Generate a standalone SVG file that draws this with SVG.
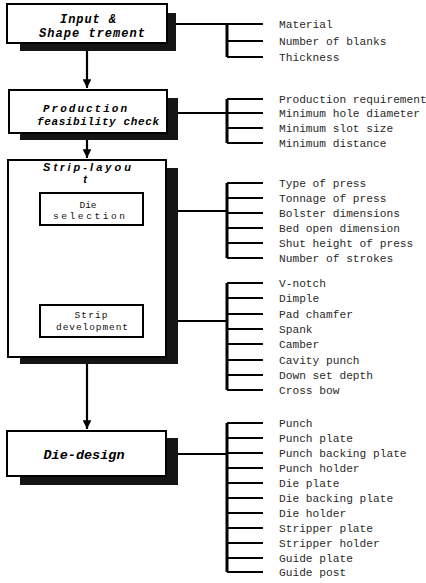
<svg xmlns="http://www.w3.org/2000/svg" width="426" height="583" viewBox="0 0 426 583">
<style>
.box{fill:#fff;stroke:#000;stroke-width:2}
.sh{fill:#151515}
.ln{stroke:#000;stroke-width:2.2;fill:none}
.br{stroke:#000;stroke-width:3;fill:none}
.t{font-family:"Liberation Mono",monospace;font-size:11.2px;fill:#2a2a2a}
.h{font-family:"Liberation Mono",monospace;font-weight:bold;font-style:italic;fill:#000;text-anchor:middle}
.s{font-family:"Liberation Mono",monospace;font-size:9.5px;fill:#111;text-anchor:middle}
.sl{font-family:"Liberation Sans",Arial,sans-serif;font-weight:bold;font-style:italic;font-size:11px;text-anchor:middle;fill:#000}
</style>
<defs>
<marker id="ah" viewBox="0 0 10 10" refX="10" refY="5" markerWidth="4" markerHeight="4" orient="auto" markerUnits="strokeWidth">
<path d="M0,0 L10,5 L0,10 Z" fill="#000"/>
</marker>
</defs>
<rect width="426" height="583" fill="#fff"/>

<g id="connectors">
<path class="ln" d="M87,51 V88" marker-end="url(#ah)"/>
<path class="ln" d="M87,140 V158" marker-end="url(#ah)"/>
<path class="ln" d="M87,364 V429" marker-end="url(#ah)"/>
<path class="ln" d="M176,24 H263"/>
<path class="br" d="M227,24 V57"/>
<path class="ln" d="M227,41 H263 M227,57 H263"/>
<path class="ln" d="M178,113 H227"/>
<path class="br" d="M227,99 V143"/>
<path class="ln" d="M227,99 H263 M227,113 H263 M227,128 H263 M227,143 H263"/>
<path class="ln" d="M143,211 H227"/>
<path class="br" d="M227,183 V258"/>
<path class="ln" d="M227,183 H263 M227,198 H263 M227,213 H263 M227,228 H263 M227,243 H263 M227,258 H263"/>
<path class="ln" d="M143,321 H227"/>
<path class="br" d="M227,283 V390"/>
<path class="ln" d="M227,283 H263 M227,298 H263 M227,314 H263 M227,329 H263 M227,344 H263 M227,360 H263 M227,375 H263 M227,390 H263"/>
<path class="ln" d="M178,454 H227"/>
<path class="br" d="M227,423 V572"/>
<path class="ln" d="M227,423 H263 M227,438 H263 M227,453 H263 M227,468 H263 M227,483 H263 M227,498 H263 M227,513 H263 M227,528 H263 M227,543 H263 M227,558 H263 M227,572 H263"/>
</g>

<g id="input">
<rect class="sh" x="20" y="13" width="156" height="38"/>
<rect class="box" x="7" y="4" width="160" height="39"/>
<text class="h" x="88" y="23" font-size="12" textLength="56" lengthAdjust="spacing">Input &amp;</text>
<text class="h" x="92" y="37" font-size="12" textLength="106" lengthAdjust="spacing">Shape trement</text>
</g>

<g id="feasibility">
<rect class="sh" x="20" y="98" width="158" height="42"/>
<rect class="box" x="9" y="90" width="158" height="43"/>
<text class="h" x="85" y="112" font-size="11" textLength="84" lengthAdjust="spacing">Production</text>
<text class="h" x="98" y="124.5" font-size="11" textLength="122" lengthAdjust="spacing">feasibility check</text>
</g>

<g id="strip-layout">
<rect class="sh" x="20" y="168" width="158" height="196"/>
<rect class="box" x="8" y="160" width="158" height="197"/>
<text class="sl" x="87" y="170.5" textLength="88" lengthAdjust="spacing">Strip-layou</text>
<text class="sl" x="85" y="183">t</text>
</g>

<g id="die-selection">
<rect class="box" x="40" y="193" width="103" height="32" stroke-width="1.6"/>
<text class="s" x="88" y="207.5">Die</text>
<text class="s" x="89" y="219" textLength="72" lengthAdjust="spacing">selection</text>
</g>

<g id="strip-development">
<rect class="box" x="40" y="305" width="103" height="32" stroke-width="1.6"/>
<text class="s" x="91" y="318" textLength="33" lengthAdjust="spacing">Strip</text>
<text class="s" x="92" y="329.5" textLength="72" lengthAdjust="spacing">development</text>
</g>

<g id="die-design">
<rect class="sh" x="20" y="438" width="158" height="47"/>
<rect class="box" x="7" y="431" width="159" height="45"/>
<text class="h" x="84" y="459" font-size="13.5">Die-design</text>
</g>

<g id="labels">
<text class="t" x="279" y="28">Material</text>
<text class="t" x="279" y="45">Number of blanks</text>
<text class="t" x="279" y="61">Thickness</text>
<text class="t" x="279" y="103">Production requirement</text>
<text class="t" x="279" y="117">Minimum hole diameter</text>
<text class="t" x="279" y="132">Minimum slot size</text>
<text class="t" x="279" y="147">Minimum distance</text>
<text class="t" x="279" y="187">Type of press</text>
<text class="t" x="279" y="202">Tonnage of press</text>
<text class="t" x="279" y="217">Bolster dimensions</text>
<text class="t" x="279" y="232">Bed open dimension</text>
<text class="t" x="279" y="247">Shut height of press</text>
<text class="t" x="279" y="262">Number of strokes</text>
<text class="t" x="279" y="287">V-notch</text>
<text class="t" x="279" y="302">Dimple</text>
<text class="t" x="279" y="318">Pad chamfer</text>
<text class="t" x="279" y="333">Spank</text>
<text class="t" x="279" y="348">Camber</text>
<text class="t" x="279" y="364">Cavity punch</text>
<text class="t" x="279" y="379">Down set depth</text>
<text class="t" x="279" y="394">Cross bow</text>
<text class="t" x="279" y="427">Punch</text>
<text class="t" x="279" y="442">Punch plate</text>
<text class="t" x="279" y="457">Punch backing plate</text>
<text class="t" x="279" y="472">Punch holder</text>
<text class="t" x="279" y="487">Die plate</text>
<text class="t" x="279" y="502">Die backing plate</text>
<text class="t" x="279" y="517">Die holder</text>
<text class="t" x="279" y="532">Stripper plate</text>
<text class="t" x="279" y="547">Stripper holder</text>
<text class="t" x="279" y="562">Guide plate</text>
<text class="t" x="279" y="576">Guide post</text>
</g>
</svg>
